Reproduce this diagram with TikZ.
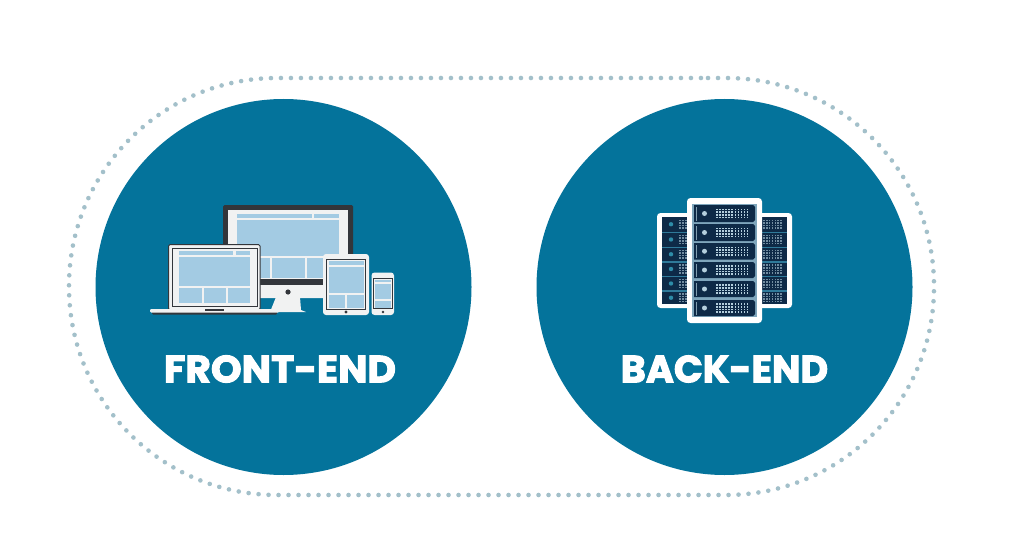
\documentclass[tikz,border=0pt]{standalone}
\usepackage{fontspec}
\setmainfont{Poppins}
\newfontfamily\labelfont[FakeBold=2.6]{Poppins Bold}
\definecolor{teal}{HTML}{04739B}
\definecolor{dots}{HTML}{A3C0CA}
\definecolor{scr}{HTML}{A3CBE3}
\definecolor{body}{HTML}{F1F2F2}
\definecolor{ink}{HTML}{33363B}
\definecolor{rack}{HTML}{0E2A47}
\definecolor{rackback}{HTML}{7FA6BC}
\definecolor{sideback}{HTML}{2F7A9A}
\definecolor{leddim}{HTML}{2E8CA8}
\definecolor{led}{HTML}{B4CFDD}
\tikzset{
  disc/.style={fill=teal,draw=none},
  title/.style={font=\labelfont\fontsize{38}{38}\selectfont,text=white,inner sep=0pt,anchor=center},
  shell/.style={fill=body,draw=none},
  pane/.style={fill=scr,draw=none},
  darkpart/.style={fill=ink,draw=none},
  frameline/.style={draw=ink,line width=1pt,fill=body},
  whitecase/.style={fill=white,draw=none,rounded corners=3.5pt},
}
\newcommand{\pane}[4]{\fill[pane] (#1,#2) rectangle (#3,#4);}
\newcommand{\sidegrid}[4]{% x0, x1, cols, colour
  \foreach \gy in {-3.9,-1.3,1.3,3.9}{\foreach \gi in {1,...,#3}{%
    \fill[#4] ({#1+(\gi-1)*(#2-#1)/(#3-1)-0.8},\yc+\gy-0.8) rectangle ++(1.6,1.6);}}}
\begin{document}
\begin{tikzpicture}[x=1pt,y=-1pt]
\useasboundingbox (0,0) rectangle (1024,556);
\fill[white] (0,0) rectangle (1024,556);
% dotted outline
\draw[dots,line width=4.6pt,line cap=round,dash pattern=on 0pt off 10pt,rounded corners=208pt]
  (500,78) -- (934,78) -- (934,495) -- (69,495) -- (69,78) -- cycle;
% discs
\node[disc,circle,minimum size=376pt,inner sep=0pt] (front) at (283.5,287) {};
\node[disc,circle,minimum size=376pt,inner sep=0pt] (back) at (724.5,287) {};
\node[title,xscale=1.03] (frontlabel) at (280,369) {FRONT-END};
\node[title] (backlabel) at (724.5,369) {BACK-END};

% ---------- monitor
\fill[body] (276,297) -- (300,297) -- (301,310) -- (306,312) -- (270,312) -- cycle;
\fill[darkpart,rounded corners=1.5pt] (223,205) rectangle (353,286);
\fill[shell] (228,210) rectangle (348,279);
\fill[shell,rounded corners=1pt] (223,285) rectangle (353,298);
\pane{237}{213.5}{312}{218}
\pane{314}{213.5}{339}{218}
\pane{237}{220}{339}{256}
\pane{237}{257.5}{270}{278}
\pane{272}{257.5}{305}{278}
\pane{307}{257.5}{339}{278}
\fill[ink] (288,292) circle (2.6pt);
% ---------- laptop
\fill[frameline,rounded corners=1.5pt] (168.5,244.5) rectangle (260,310);
\fill[frameline] (172,248.5) rectangle (257,306);
\pane{179}{251}{233}{255}
\pane{236}{251}{250}{255}
\pane{179}{256.5}{250}{286}
\pane{179}{288}{202}{303}
\pane{203.5}{288}{226}{303}
\pane{227.5}{288}{250}{303}
\fill[ink,rounded corners=1pt] (152,311) rectangle (277,314.5);
\fill[body,rounded corners=1pt] (150,309) rectangle (279,312.5);
\fill[ink] (205,309) rectangle (224,311);
% ---------- tablet
\fill[shell,rounded corners=3pt] (323,254) rectangle (369,315);
\fill[frameline] (326.5,259.5) rectangle (365.5,309);
\pane{328.5}{261}{364}{265}
\pane{328.5}{266.5}{364}{292.5}
\pane{328.5}{294.5}{345}{307.5}
\pane{346.5}{294.5}{364}{307.5}
\fill[ink] (346,312) circle (1.6pt);
% ---------- phone
\fill[shell,rounded corners=3pt] (371.5,272.5) rectangle (394,315);
\fill[frameline] (373.5,278.5) rectangle (392,308.5);
\pane{374.5}{279.5}{391}{282}
\pane{374.5}{283.5}{391}{299}
\pane{374.5}{300.5}{391}{307.5}
\fill[ink] (383,312) circle (1.3pt);

% ---------- side racks
\fill[whitecase] (657,213) rectangle (792,308);
\fill[sideback] (662,217) rectangle (787,304);
\foreach \ya/\yb in {217/231.5,232.5/246.5,247.5/261,262.5/275.5,277/290,291.5/304}{
  \fill[rack] (662,\ya) rectangle (787,\yb);
  \pgfmathsetmacro{\yc}{(\ya+\yb)/2}
  \fill[leddim] (671,\yc) circle (2.2pt);
  \sidegrid{680}{686}{3}{led!60!rack}
  \sidegrid{764}{781}{7}{led!60!rack}
}
% ---------- centre rack
\fill[whitecase] (687,198) rectangle (762,323);
\fill[rackback] (692,204) rectangle (757,317);
\foreach \ya/\yb in {205/222,224/241,243/259.5,262/278,281/297,300/316}{
  \fill[rack] (694,\ya) -- (753,\ya) -- (755,\ya+2) -- (755,\yb-2) -- (753,\yb) -- (694,\yb) -- cycle;
  \fill[led!70!rack] (695.5,\ya+1.5) rectangle (696.5,\yb-1.5);
  \pgfmathsetmacro{\yc}{(\ya+\yb)/2}
  \fill[led] (704.5,\yc) circle (2.5pt);
  \sidegrid{717}{747.5}{11}{led}
}
\end{tikzpicture}
\end{document}
